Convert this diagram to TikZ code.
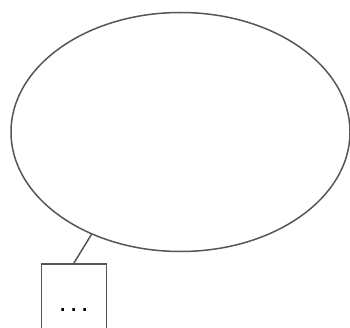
\documentclass[tikz,border=0pt]{standalone}
\usepackage{fontspec}
\setmainfont{Liberation Sans}
\usepackage{tikz}
\usepackage{xcolor}
\usetikzlibrary{shapes.geometric}
\definecolor{OutlineGray}{HTML}{555555}

\begin{document}
\begin{tikzpicture}[x=1pt,y=1pt,
    outline/.style={draw=OutlineGray,line width=1.5pt,inner sep=0pt}]
    \useasboundingbox (0,0) rectangle (350,327);
    \node[outline,ellipse,minimum width=339pt,minimum height=239pt] (whole) at (180.5,195) {};
    \node[outline,rectangle,minimum width=65pt,minimum height=91pt,
          text height=3pt,text depth=0pt] (part) at (73.8,17.5)
          {\fontsize{28}{32}\selectfont .\kern3.2pt.\kern3.2pt.};
    \draw[OutlineGray,line width=1.5pt] (whole.229) -- (part.north);
  \end{tikzpicture}
\end{document}
